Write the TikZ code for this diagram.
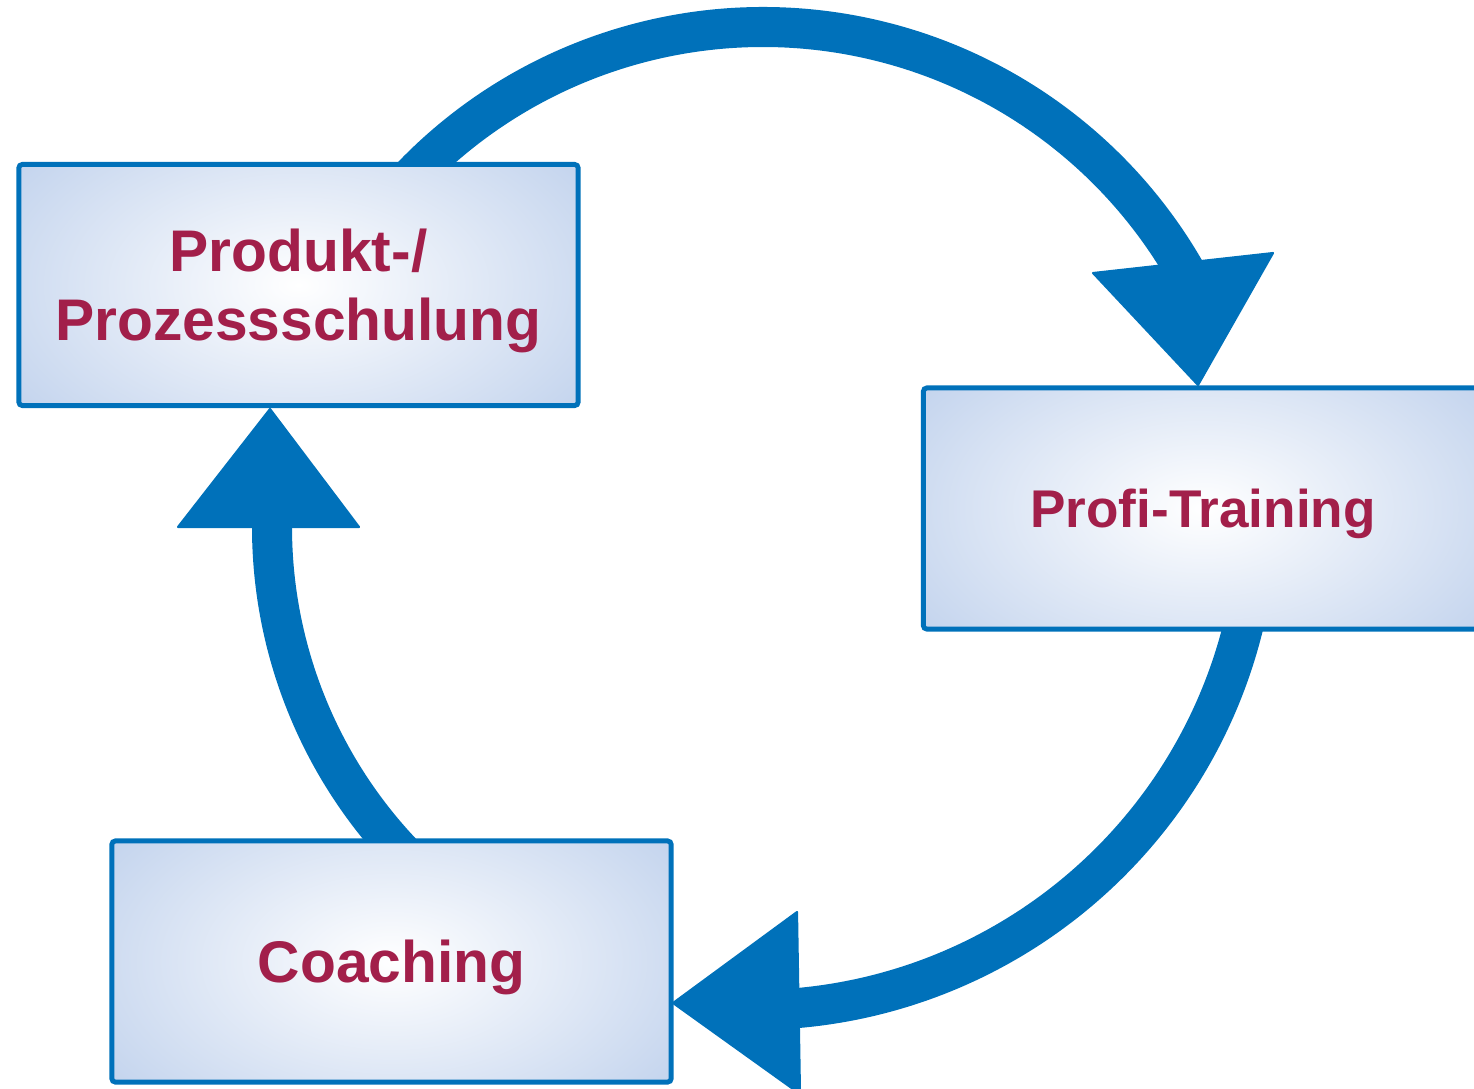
\documentclass[tikz,border=0pt]{standalone}
\usepackage{fontspec}
\setmainfont{Liberation Sans}
\usetikzlibrary{calc}
\definecolor{arrowblue}{HTML}{0071BA}
\definecolor{textred}{HTML}{A21F4A}
\definecolor{shadeblue}{HTML}{C5D5EE}
\tikzset{
  box/.style={draw=arrowblue, line width=1.4pt, fill=shadeblue, rounded corners=1pt,
    minimum width=5.59cm, minimum height=2.41cm, inner sep=0pt, align=center,
    text=textred, text depth=0pt, font=\fontsize{16.7}{19.6}\selectfont\bfseries,
    path picture={\shade[inner color=white, outer color=shadeblue]
      (path picture bounding box.center) ellipse [x radius=340, y radius=200];}},
  smalltext/.style={font=\fontsize{15.1}{19.6}\selectfont\bfseries},
  shaft/.style={draw=arrowblue, line width=0.4cm},
  head/.style={fill=arrowblue, draw=arrowblue, line width=0.6pt, line join=round}
}
\begin{document}
\begin{tikzpicture}[x=0.01cm, y=-0.01cm]
\useasboundingbox (0,0) rectangle (1474,1088);
\clip (0,0) rectangle (1474,1088);
% arc centres
\coordinate (c1) at (763,514);
\coordinate (c2) at (753,505);
\coordinate (c3) at (746,527);
% shafts
\draw[shaft] ($(c1)+(222:487)$) arc[start angle=222, end angle=331, radius=487];
\draw[shaft] ($(c2)+(11:505)$) arc[start angle=11, end angle=87, radius=505];
\draw[shaft] ($(c3)+(135:474)$) arc[start angle=135, end angle=183, radius=474];
% boxes
\node[box] (prod) at (298.5,285) {Produkt-/\\Prozessschulung};
\node[box, smalltext] (profi) at (1203,508.5) {Profi-Training};
\node[box] (coach) at (391.5,961.5) {Coaching};
% heads
\coordinate (h1a) at (1093,273); \coordinate (h1b) at (1273,253); \coordinate (h1t) at (1198,385);
\coordinate (h2a) at (797,912);  \coordinate (h2b) at (800,1094); \coordinate (h2t) at (673,1003);
\coordinate (h3a) at (178,527);  \coordinate (h3b) at (359,527);  \coordinate (h3t) at (270,409);
\filldraw[head] (h1a) -- (h1b) -- (h1t) -- cycle;
\filldraw[head] (h2a) -- (h2b) -- (h2t) -- cycle;
\filldraw[head] (h3a) -- (h3b) -- (h3t) -- cycle;
\end{tikzpicture}
\end{document}
